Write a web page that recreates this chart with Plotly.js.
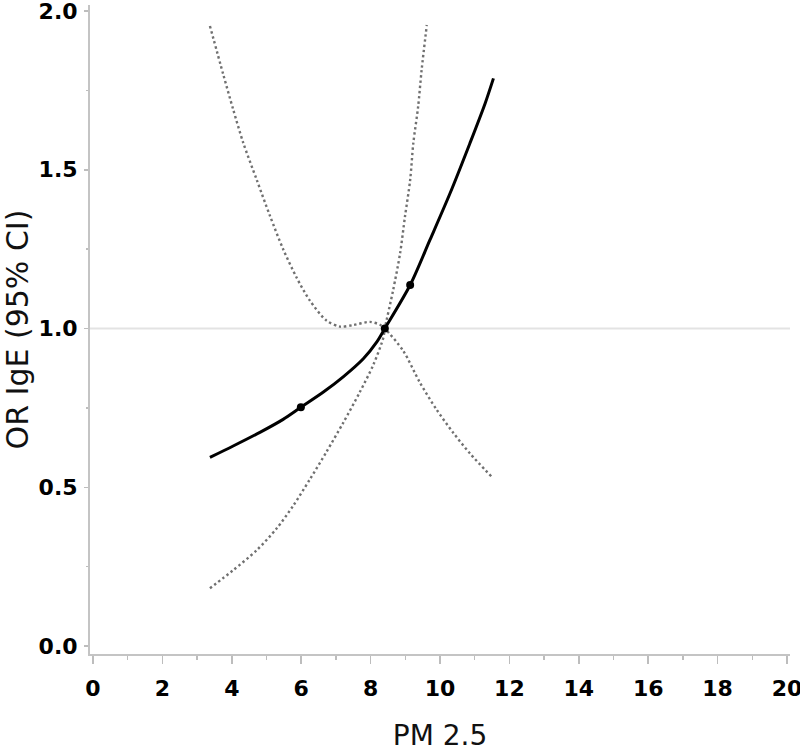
<!DOCTYPE html>
<html>
<head>
<meta charset="utf-8">
<script src="https://cdn.plot.ly/plotly-3.0.1.min.js"></script>
<style>html,body{margin:0;padding:0;background:#fff;}#chart{width:800px;height:752px;}</style>
</head>
<body>
<div id="chart"></div>
<script>
// Estimate curve (OR)
const estX = [3.37, 4.04, 4.81, 5.48, 5.99, 6.64, 7.21, 7.79, 8.18, 8.41, 9.14, 9.71, 10.29, 10.86, 11.30, 11.54];
const estY = [0.594, 0.630, 0.673, 0.714, 0.752, 0.800, 0.848, 0.905, 0.958, 1.0, 1.137, 1.279, 1.426, 1.583, 1.709, 1.788];
// Upper 95% CI
const upX = [3.37, 3.755, 4.04, 4.33, 4.72, 5.10, 5.48, 5.87, 6.25, 6.73, 7.12, 7.50, 7.98, 8.27, 8.41, 8.94, 9.42, 9.90, 10.38, 10.86, 11.49];
const upY = [1.953, 1.800, 1.690, 1.585, 1.468, 1.355, 1.250, 1.160, 1.088, 1.025, 1.006, 1.011, 1.021, 1.012, 1.0, 0.930, 0.830, 0.745, 0.672, 0.607, 0.533];
// Lower 95% CI
const loX = [3.37, 4.04, 4.72, 5.29, 5.77, 6.25, 6.73, 7.21, 7.69, 8.08, 8.37, 8.41, 8.65, 8.85, 8.99, 9.14, 9.23, 9.37, 9.47, 9.62];
const loY = [0.182, 0.239, 0.302, 0.370, 0.442, 0.525, 0.612, 0.703, 0.800, 0.886, 0.972, 1.0, 1.121, 1.237, 1.352, 1.468, 1.583, 1.699, 1.814, 1.956];
// Marked points
const ptX = [5.99, 8.41, 9.14];
const ptY = [0.752, 1.0, 1.137];
// Ticks
const xTicks = [0, 2, 4, 6, 8, 10, 12, 14, 16, 18, 20];
const yTicks = [0.0, 0.5, 1.0, 1.5, 2.0];
const yTickText = ['0.0', '0.5', '1.0', '1.5', '2.0'];
const xTitle = 'PM 2.5';
const yTitle = 'OR IgE (95% CI)';
const refY = 1.0;

const FONT = 'DejaVu Sans, Verdana, sans-serif';
const dotted = {color: '#707070', width: 2.4, dash: '2.4px,2.8px', shape: 'spline', smoothing: 0.8};

const traces = [
  {x: upX, y: upY, mode: 'lines', line: dotted, hoverinfo: 'skip'},
  {x: loX, y: loY, mode: 'lines', line: dotted, hoverinfo: 'skip'},
  {x: estX, y: estY, mode: 'lines', line: {color: '#000', width: 3, shape: 'spline', smoothing: 0.8}, hoverinfo: 'skip'},
  {x: ptX, y: ptY, mode: 'markers', marker: {color: '#000', size: 8}, hoverinfo: 'skip'}
];

const layout = {
  width: 800, height: 752,
  margin: {l: 90, r: 10, t: 5, b: 98},
  paper_bgcolor: '#fff', plot_bgcolor: '#fff',
  showlegend: false,
  font: {family: FONT, color: '#000'},
  xaxis: {
    range: [-0.086, 20.086],
    tickvals: xTicks, ticktext: xTicks.map(String),
    ticks: 'outside', ticklen: 8, tickwidth: 1.5, tickcolor: '#bdbdbd',
    minor: {dtick: 1, tick0: 0, ticks: 'outside', ticklen: 4, tickwidth: 1.5, tickcolor: '#bdbdbd'},
    showline: true, linecolor: '#c4c4c4', linewidth: 2,
    showgrid: false, zeroline: false,
    tickfont: {family: FONT, size: 22, color: '#000', weight: 'bold'},
    ticklabelstandoff: 6,
    ticklabeloverflow: 'allow',
    title: {text: xTitle, font: {family: FONT, size: 28, color: '#111'}, standoff: 28}
  },
  yaxis: {
    range: [-0.025, 2.019],
    tickvals: yTicks, ticktext: yTickText,
    ticks: 'outside', ticklen: 4, tickwidth: 1.5, tickcolor: '#bdbdbd',
    minor: {dtick: 0.25, tick0: 0, ticks: 'outside', ticklen: 2, tickwidth: 1.5, tickcolor: '#bdbdbd'},
    showline: true, linecolor: '#c4c4c4', linewidth: 2,
    showgrid: false, zeroline: false,
    tickfont: {family: FONT, size: 22, color: '#000', weight: 'bold'},
    ticklabelstandoff: 2,
    ticklabeloverflow: 'allow',
    title: {text: yTitle, font: {family: FONT, size: 30, color: '#111'}, standoff: 8}
  },
  shapes: [
    {type: 'line', xref: 'paper', yref: 'y', x0: 0, x1: 1, y0: refY, y1: refY, line: {color: '#e3e3e3', width: 2}, layer: 'below'}
  ]
};

Plotly.newPlot('chart', traces, layout, {displayModeBar: false, staticPlot: true});
</script>
</body>
</html>
